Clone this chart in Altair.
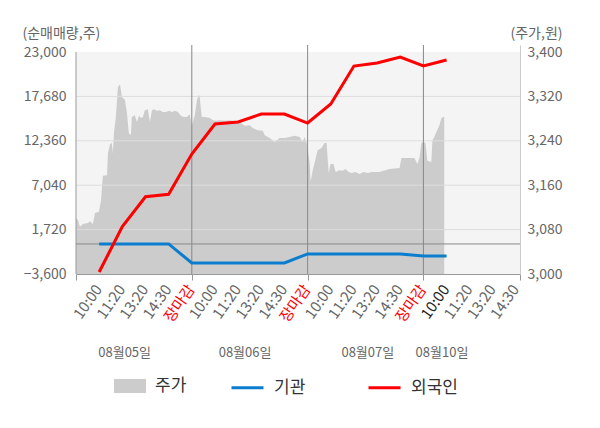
import altair as alt
import pandas as pd

FONT = "Noto Sans CJK KR"

# ---------------- data ----------------
TIME_LABELS = ["10:00", "11:20", "13:20", "14:30", "장마감"]
DATE_LABELS = ["08월05일", "08월06일", "08월07일", "08월10일"]
DATE_POS = [2.1, 7.3, 12.6, 15.8]

LEFT_TICKS = [-3600, 1720, 7040, 12360, 17680, 23000]
RIGHT_TICKS = [3000, 3080, 3160, 3240, 3320, 3400]
GRID_VALUES = [1720, 7040, 12360, 17680]
DAY_BREAKS = [5, 10, 15]

price_t = [0, 0.09, 0.17, 0.30, 0.52, 0.60, 0.73, 0.82, 0.99, 1.08,
           1.16, 1.34, 1.38, 1.47, 1.55, 1.59, 1.64, 1.72, 1.81, 1.90,
           1.98, 2.11, 2.20, 2.28, 2.37, 2.41, 2.54, 2.63, 2.72, 2.80,
           2.89, 2.97, 3.10, 3.19, 3.28, 3.36, 3.49, 3.62, 3.75, 3.88,
           4.01, 4.14, 4.27, 4.40, 4.53, 4.66, 4.78, 4.91, 5.00, 5.13,
           5.22, 5.30, 5.34, 5.43, 5.56, 5.78, 5.91, 6.03, 6.21, 6.42,
           6.64, 7.07, 7.28, 7.50, 7.63, 7.84, 8.06, 8.15, 8.36, 8.58,
           8.79, 9.01, 9.22, 9.44, 9.66, 9.78, 9.87, 9.96, 10.09, 10.13,
           10.22, 10.30, 10.43, 10.60, 10.73, 10.82, 10.91, 10.99, 11.12, 11.21,
           11.38, 11.51, 11.64, 11.77, 11.90, 12.07, 12.24, 12.41, 12.59, 12.76,
           13.10, 13.53, 13.97, 14.05, 14.40, 14.61, 14.74, 14.83, 14.91, 15.00,
           15.09, 15.17, 15.34, 15.39, 15.47, 15.56, 15.69, 15.78, 15.86, 15.90]
price_v = [3101, 3097, 3085, 3090, 3092, 3095, 3090, 3110, 3112, 3133,
           3177, 3178, 3218, 3234, 3236, 3218, 3254, 3283, 3337, 3342,
           3319, 3314, 3290, 3254, 3250, 3283, 3286, 3274, 3285, 3281,
           3283, 3295, 3297, 3274, 3295, 3297, 3294, 3295, 3292, 3292,
           3294, 3292, 3294, 3292, 3285, 3283, 3283, 3288, 3267, 3286,
           3312, 3323, 3319, 3283, 3283, 3281, 3277, 3276, 3277, 3276,
           3277, 3274, 3267, 3268, 3263, 3259, 3258, 3250, 3245, 3238,
           3245, 3245, 3247, 3249, 3247, 3238, 3247, 3236, 3200, 3166,
           3187, 3200, 3223, 3227, 3236, 3236, 3182, 3198, 3198, 3184,
           3187, 3186, 3189, 3184, 3182, 3184, 3180, 3184, 3182, 3184,
           3184, 3189, 3191, 3209, 3209, 3209, 3198, 3209, 3236, 3238,
           3236, 3204, 3202, 3241, 3247, 3256, 3268, 3281, 3283, 3283]

flow_t = list(range(1, 17))
inst_v = [0, 0, 0, 0, -2280, -2280, -2280, -2280, -2280,
          -1200, -1200, -1200, -1200, -1200, -1440, -1440]
foreign_v = [-3360, 2070, 5660, 5950, 10780, 14370, 14610, 15570, 15570,
             14490, 16770, 21320, 21680, 22400, 21320, 22040]

# ---------------- layout ----------------
W, H, H_DATA = 444, 229, 222
XMAX = 19.17
LEFT_TOP = LEFT_TICKS[0] + (LEFT_TICKS[-1] - LEFT_TICKS[0]) * H / H_DATA
RIGHT_TOP = RIGHT_TICKS[0] + (RIGHT_TICKS[-1] - RIGHT_TICKS[0]) * H / H_DATA

price_df = pd.DataFrame({"t": price_t, "price": price_v, "s": "주가"})
flow_df = pd.DataFrame({
    "t": flow_t + flow_t,
    "v": inst_v + foreign_v,
    "series": ["기관"] * len(flow_t) + ["외국인"] * len(flow_t),
})
grid_df = pd.DataFrame({"g": GRID_VALUES})
day_df = pd.DataFrame({"d": DAY_BREAKS})
date_df = pd.DataFrame({"t": DATE_POS, "label": DATE_LABELS})
bg_df = pd.DataFrame({"x0": [0], "x1": [XMAX], "y0": [RIGHT_TICKS[0]], "y1": [RIGHT_TICKS[-1]]})
edge_df = pd.DataFrame({"x0": [0], "y0": [LEFT_TICKS[0]], "y1": [LEFT_TICKS[-1]]})

names = "[" + ",".join("'%s'" % s for s in TIME_LABELS) + "]"
x_axis = alt.Axis(
    values=list(range(0, 20)) + [XMAX],
    labelExpr="datum.value >= 1 && datum.value <= 19 && datum.value == floor(datum.value) ? "
              + names + "[(datum.value - 1) % 5] : ''",
    labelAngle=-55,
    labelAlign="right",
    labelBaseline="middle",
    labelOverlap=False,
    labelFlush=False,
    labelFont=FONT,
    labelFontSize=15,
    labelPadding=6,
    labelOffset=-1,
    labelColor={"condition": [
        {"test": "datum.value % 5 == 0 && datum.value > 0", "value": "#ff0000"},
        {"test": "datum.value == 16", "value": "#222222"}],
        "value": "#666666"},
    tickColor={"condition": {"test": "datum.value % 5 == 0 || datum.value > 19", "value": "#999999"},
               "value": "rgba(0,0,0,0)"},
    tickSize=6,
    domainColor="#999999",
    grid=False,
    title="",
)
x_scale = alt.Scale(domain=[0, XMAX], nice=False, zero=False)


def X(field):
    return alt.X(field, type="quantitative", scale=x_scale, axis=x_axis)


left_axis = alt.Axis(
    orient="left", values=LEFT_TICKS, format=",.0f", grid=False, ticks=False, domain=False,
    labelColor="#666666", labelFont=FONT, labelFontSize=14, labelPadding=10,
    labelOverlap=False, labelFlush=False,
    title="(순매매량,주)", titleAngle=0, titleAlign="left", titleBaseline="middle",
    titleX=-54, titleY=-12, titleFont=FONT, titleFontSize=14,
    titleFontWeight="normal", titleColor="#666666",
)
left_scale = alt.Scale(domain=[LEFT_TICKS[0], LEFT_TOP], nice=False, zero=False)

right_axis = alt.Axis(
    orient="right", values=RIGHT_TICKS, format=",.0f", grid=False, ticks=False, domain=True,
    domainColor="#cccccc",
    labelColor="#666666", labelFont=FONT, labelFontSize=14, labelPadding=7,
    labelOverlap=False, labelFlush=False,
    title="(주가,원)", titleAngle=0, titleAlign="right", titleBaseline="middle",
    titleX=42, titleY=-12, titleFont=FONT, titleFontSize=14,
    titleFontWeight="normal", titleColor="#666666",
)
right_scale = alt.Scale(domain=[RIGHT_TICKS[0], RIGHT_TOP], nice=False, zero=False)


def YL(field):
    return alt.Y(field, type="quantitative", scale=left_scale, axis=left_axis)


def YR(field):
    return alt.Y(field, type="quantitative", scale=right_scale, axis=right_axis)


# ---------------- price (right axis) ----------------
bg = alt.Chart(bg_df).mark_rect(color="#f4f4f4").encode(
    x=X("x0"), x2="x1", y=YR("y0"), y2="y1")

area = alt.Chart(price_df).mark_area(interpolate="linear").encode(
    x=X("t"),
    y=YR("price"),
    y2=alt.datum(RIGHT_TICKS[0]),
    fill=alt.Fill("s:N", scale=alt.Scale(domain=["주가"], range=["#cccccc"]),
                  legend=alt.Legend(
                      orient="none", legendX=38, legendY=325, direction="horizontal",
                      title=None, symbolType="M-1,-0.44H1V0.44H-1Z", symbolSize=1024,
                      symbolStrokeWidth=0, symbolOpacity=1,
                      labelFont=FONT, labelFontSize=17, labelColor="#333333",
                      labelOffset=9, padding=0)),
)
price_layer = alt.layer(bg, area)

# ---------------- flows (left axis) ----------------
grid = alt.Chart(grid_df).mark_rule(color="#dddddd", strokeWidth=1).encode(y=YL("g"))
edge = alt.Chart(edge_df).mark_rule(color="#999999", strokeWidth=1).encode(
    x=X("x0"), y=YL("y0"), y2="y1")
zero = alt.Chart(grid_df.head(1)).mark_rule(color="#888888", strokeWidth=1).encode(
    y=alt.datum(0, scale=left_scale, axis=left_axis))
days = alt.Chart(day_df).mark_rule(color="#888888", strokeWidth=1).encode(x=X("d"))

lines = alt.Chart(flow_df).mark_line(strokeWidth=3).encode(
    x=X("t"),
    y=YL("v"),
    stroke=alt.Stroke("series:N", scale=alt.Scale(domain=["기관", "외국인"], range=["#0a7dce", "#ff0000"]),
                      legend=alt.Legend(
                          orient="none", legendX=154, legendY=325, direction="horizontal",
                          title=None, symbolType="stroke", symbolSize=1024, symbolStrokeWidth=3,
                          labelFont=FONT, labelFontSize=17, labelColor="#333333",
                          labelOffset=9, columnPadding=56, padding=0)),
)
dates = alt.Chart(date_df).mark_text(font=FONT, fontSize=13, color="#666666",
                                     align="center", baseline="middle").encode(
    x=X("t"), y=alt.value(308), text="label:N")

flow_layer = alt.layer(grid, edge, zero, days, lines, dates)

chart = alt.layer(price_layer, flow_layer).resolve_scale(y="independent").properties(
    width=W, height=H,
    padding={"left": 68, "top": 37, "right": 72, "bottom": 146},
    autosize=alt.AutoSizeParams(type="none"),
    background="white",
).configure_view(strokeWidth=0)

chart.save("out.html", embed_options={"renderer": "svg", "actions": False})
